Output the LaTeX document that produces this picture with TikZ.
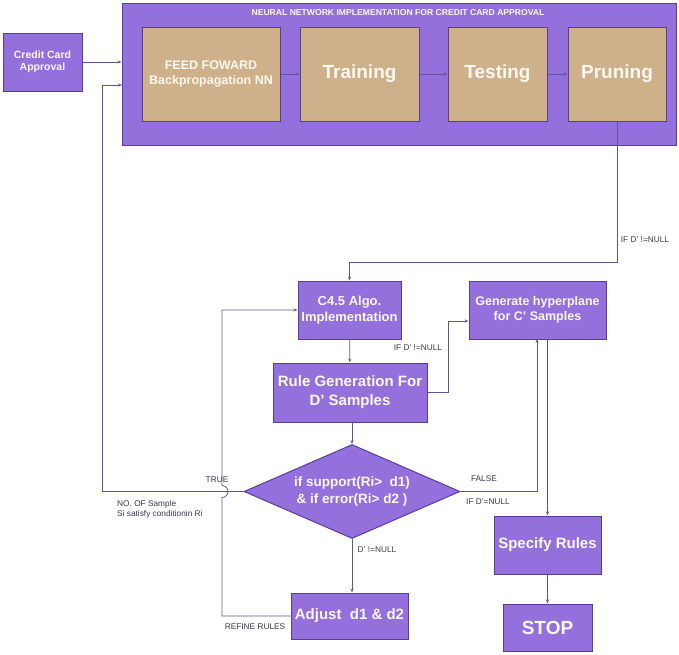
\documentclass[tikz,border=0pt]{standalone}
\usepackage{fontspec}
\setmainfont{Liberation Sans}
\usetikzlibrary{shapes.geometric,arrows.meta}
\definecolor{pfill}{RGB}{147,112,219}
\definecolor{pdraw}{RGB}{88,62,150}
\definecolor{tanfill}{RGB}{206,177,138}
\definecolor{lcol}{RGB}{98,84,148}
\definecolor{tcol}{RGB}{252,248,240}
\definecolor{labcol}{RGB}{55,55,75}
\tikzset{
  pbox/.style={draw=pdraw,line width=1pt,fill=pfill,text=tcol,font=\bfseries,align=center,inner sep=0pt},
  tbox/.style={draw=pdraw,line width=1pt,fill=tanfill,text=tcol,font=\bfseries,align=center,inner sep=0pt},
  conn/.style={draw=lcol,line width=0.8pt,-{Stealth[length=4pt,width=3pt]}},
  plain/.style={draw=lcol,line width=0.8pt},
  lab/.style={text=labcol,font=\fontsize{8.3}{10}\selectfont,inner sep=0pt,align=left}
}
\begin{document}
\begin{tikzpicture}[x=1pt,y=-1pt]
\useasboundingbox (0,0) rectangle (679,654);
% top block
\node[pbox,minimum width=554pt,minimum height=142pt] (outer) at (399,74) {};
\node[text=tcol,font=\bfseries\fontsize{8.6}{10}\selectfont,inner sep=0pt] (title) at (398,13) {NEURAL NETWORK IMPLEMENTATION FOR CREDIT CARD APPROVAL};
\node[pbox,minimum width=79pt,minimum height=58pt,font=\bfseries\fontsize{10.5}{12.5}\selectfont] (credit) at (42.5,62) {Credit Card\\Approval};
\node[tbox,minimum width=138pt,minimum height=94pt,font=\bfseries\fontsize{12.5}{15}\selectfont] (ff) at (211,74) {FEED FOWARD\\Backpropagation NN};
\node[tbox,minimum width=119pt,minimum height=94pt,font=\bfseries\fontsize{19}{22}\selectfont] (train) at (359.5,74) {Training};
\node[tbox,minimum width=99pt,minimum height=94pt,font=\bfseries\fontsize{19}{22}\selectfont] (test) at (497.5,74) {Testing};
\node[tbox,minimum width=98pt,minimum height=94pt,font=\bfseries\fontsize{19}{22}\selectfont] (prune) at (617,74) {Pruning};
% lower nodes
\node[pbox,minimum width=103pt,minimum height=58pt,font=\bfseries\fontsize{13}{16}\selectfont] (c45) at (349.5,310) {C4.5 Algo.\\Implementation};
\node[pbox,minimum width=137pt,minimum height=58pt,font=\bfseries\fontsize{12.5}{15.5}\selectfont] (gen) at (537.5,310) {Generate hyperplane\\for C' Samples};
\node[pbox,minimum width=154pt,minimum height=59pt,font=\bfseries\fontsize{15}{19}\selectfont] (rule) at (350,392.5) {Rule Generation For\\D' Samples};
\node[pbox,shape=diamond,minimum width=216pt,minimum height=94pt] (dia) at (352,491.5) {};
\node[text=tcol,font=\bfseries\fontsize{13.5}{17}\selectfont,align=center,inner sep=0pt] (diatext) at (dia.center) {if support(Ri>\ \ d1)\\\& if error(Ri> d2 )};
\node[pbox,minimum width=117pt,minimum height=46pt,font=\bfseries\fontsize{15}{18}\selectfont] (adj) at (349.5,616) {Adjust\ \ d1 \& d2};
\node[pbox,minimum width=107pt,minimum height=58pt,font=\bfseries\fontsize{15}{18}\selectfont] (spec) at (547.5,545) {Specify Rules};
\node[pbox,minimum width=89pt,minimum height=47pt,font=\bfseries\fontsize{19}{22}\selectfont] (stop) at (547.5,627.5) {STOP};
% coordinates
\coordinate (ein) at (122,85);
\coordinate (a1) at (617,262);
\coordinate (a2) at (349.5,262);
\coordinate (r1) at (448,392.5);
\coordinate (r2) at (448,321);
\coordinate (t1) at (102,491.5);
\coordinate (t2) at (102,85);
\coordinate (f1) at (537,491.5);
\coordinate (g1) at (537,339);
\coordinate (g2) at (547.5,339);
\coordinate (d1) at (222,616);
\coordinate (hb) at (222,497.5);
\coordinate (d2) at (222,310);
% connectors
\draw[conn] (credit.east) -- (credit.east -| outer.west);
\draw[conn] (ff) -- (train);
\draw[conn] (train) -- (test);
\draw[conn] (test) -- (prune);
\draw[conn] (prune.south) -- (a1) -- (a2) -- (c45.north);
\draw[conn] (c45) -- (rule);
\draw[conn] (rule.east) -- (r1) -- (r2) -- (r2 -| gen.west);
\draw[conn] (rule.south -| dia.north) -- (dia.north);
\draw[conn] (dia.west) -- (t1) -- (t2) -- (ein);
\draw[conn] (adj.west) -- (d1) -- (hb) arc[start angle=-90,end angle=90,radius=6pt] -- (d2) -- (c45.west);
\draw[conn] (dia.south) -- (dia.south |- adj.north);
\draw[conn] (dia.east) -- (f1) -- (g1);
\draw[conn] (g2) -- (g2 |- spec.north);
\draw[conn] (spec) -- (stop);
% labels
\node[lab] (l1) at (645,240) {IF D' !=NULL};
\node[lab] (l2) at (418,348) {IF D' !=NULL};
\node[lab] (l3) at (217,480) {TRUE};
\node[lab,anchor=west] (l4) at (117,509.5) {NO. OF Sample\\Si satisfy conditionin Ri};
\node[lab] (l5) at (484,479) {FALSE};
\node[lab] (l6) at (488,502) {IF D'=NULL};
\node[lab] (l7) at (377,550) {D' !=NULL};
\node[lab] (l8) at (255,627) {REFINE RULES};
\end{tikzpicture}
\end{document}
